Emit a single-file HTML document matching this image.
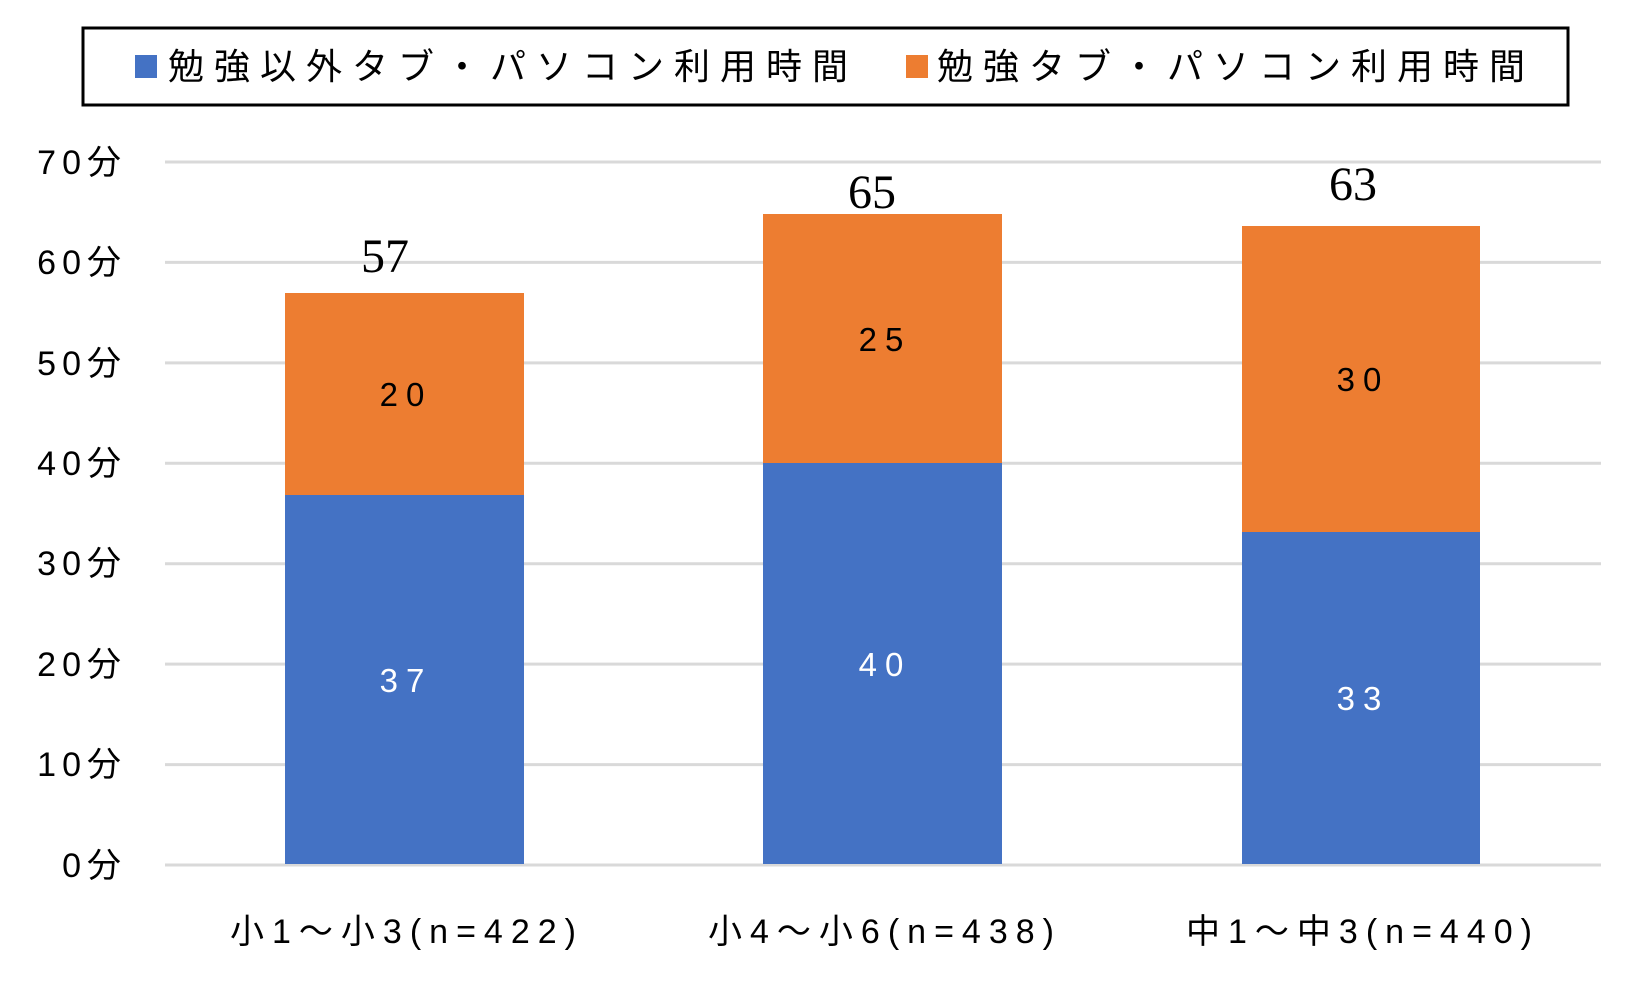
<!DOCTYPE html>
<html><head><meta charset="utf-8"><style>
html,body{margin:0;padding:0;background:#fff;}
svg{display:block;}
text{font-family:"Liberation Sans","Noto Sans CJK JP",sans-serif;}
text.serif{font-family:"Liberation Serif",serif;}
</style></head><body>
<svg width="1650" height="990" viewBox="0 0 1650 990" xmlns="http://www.w3.org/2000/svg">
<rect x="0" y="0" width="1650" height="990" fill="#fff"/>
<rect x="83" y="28" width="1485" height="77" fill="none" stroke="#000" stroke-width="3"/>
<rect x="135" y="55" width="22" height="23" fill="#4472C4"/>
<text x="168" y="79" font-size="36" letter-spacing="10" fill="#000">勉強以外タブ・パソコン利用時間</text>
<rect x="906" y="55" width="22" height="23" fill="#ED7D31"/>
<text x="937" y="79" font-size="36" letter-spacing="10" fill="#000">勉強タブ・パソコン利用時間</text>
<g stroke="#D9D9D9" stroke-width="3">
<line x1="165" y1="162" x2="1601" y2="162"/>
<line x1="165" y1="262.4" x2="1601" y2="262.4"/>
<line x1="165" y1="362.9" x2="1601" y2="362.9"/>
<line x1="165" y1="463.3" x2="1601" y2="463.3"/>
<line x1="165" y1="563.7" x2="1601" y2="563.7"/>
<line x1="165" y1="664.1" x2="1601" y2="664.1"/>
<line x1="165" y1="764.6" x2="1601" y2="764.6"/>
<line x1="165" y1="865" x2="1601" y2="865"/>
</g>
<g font-size="34" fill="#000" text-anchor="end" letter-spacing="6">
<text x="127" y="174">70分</text>
<text x="127" y="274">60分</text>
<text x="127" y="375">50分</text>
<text x="127" y="475">40分</text>
<text x="127" y="575">30分</text>
<text x="127" y="676">20分</text>
<text x="127" y="776">10分</text>
<text x="127" y="877">0分</text>
</g>
<rect x="285" y="495" width="239" height="369" fill="#4472C4"/>
<rect x="285" y="293" width="239" height="202" fill="#ED7D31"/>
<rect x="763" y="463" width="239" height="401" fill="#4472C4"/>
<rect x="763" y="214" width="239" height="249" fill="#ED7D31"/>
<rect x="1242" y="532" width="238" height="332" fill="#4472C4"/>
<rect x="1242" y="226" width="238" height="306" fill="#ED7D31"/>
<g font-size="33" text-anchor="middle" letter-spacing="8">
<text x="406" y="406" fill="#000">20</text>
<text x="406" y="692" fill="#fff">37</text>
<text x="885" y="351" fill="#000">25</text>
<text x="885" y="676" fill="#fff">40</text>
<text x="1363" y="391" fill="#000">30</text>
<text x="1363" y="710" fill="#fff">33</text>
</g>
<g font-size="48" text-anchor="middle" fill="#000">
<text class="serif" x="385" y="272">57</text>
<text class="serif" x="872" y="208">65</text>
<text class="serif" x="1353" y="200">63</text>
</g>
<g font-size="34" text-anchor="middle" fill="#000" letter-spacing="8">
<text x="407" y="943">小1～小3(n=422)</text>
<text x="885" y="943">小4～小6(n=438)</text>
<text x="1363" y="943">中1～中3(n=440)</text>
</g>
</svg>
</body></html>
